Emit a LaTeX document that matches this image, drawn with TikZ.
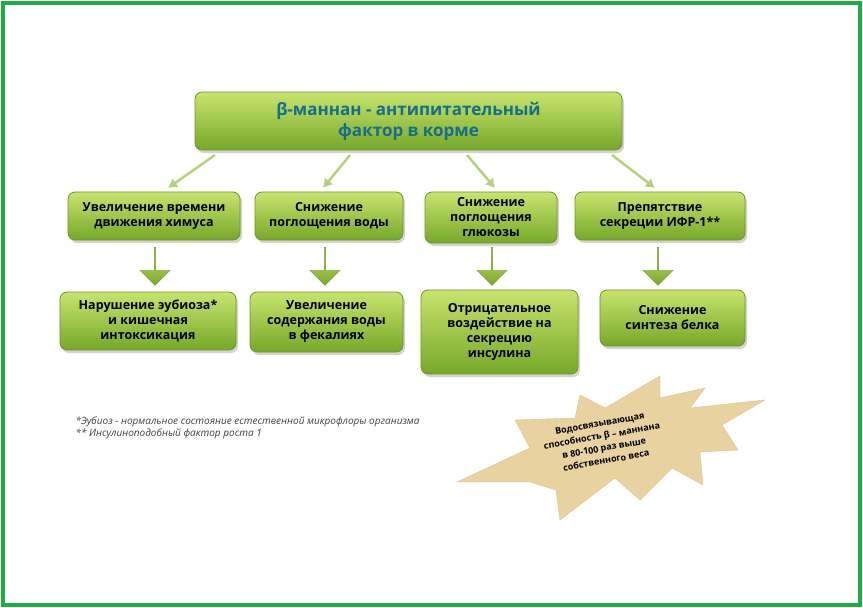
\documentclass[tikz,border=0pt]{standalone}
\usepackage{fontspec}
\setmainfont{Open Sans}
\usetikzlibrary{shapes.arrows,shadows,arrows.meta}
\definecolor{frameg}{RGB}{34,170,70}
\definecolor{gtop}{RGB}{200,228,110}
\definecolor{gbot}{RGB}{118,168,40}
\definecolor{gline}{RGB}{110,150,40}
\definecolor{arr}{RGB}{180,210,120}
\definecolor{teal}{RGB}{20,110,140}
\definecolor{papyrus}{RGB}{232,210,160}
\begin{document}
\begin{tikzpicture}[x=1pt,y=-1pt,
  box/.style={draw=gline,line width=0.8pt,rounded corners=7pt,top color=gtop,bottom color=gbot,
    drop shadow={shadow xshift=2pt,shadow yshift=-3pt,opacity=0.35},
    font=\bfseries\fontsize{12.5}{15}\selectfont,align=center,inner sep=2pt},
  thin/.style={arr,line width=2.5pt,-{Latex[length=9pt,width=11pt]}},
  down/.style={single arrow,shape border rotate=270,draw=gline,top color=gtop,bottom color=gbot,
    minimum height=38pt,minimum width=30pt,single arrow head extend=5pt,inner sep=0pt}]
\useasboundingbox (0,0) rectangle (863,608);
\fill[white] (0,0) rectangle (863,608);
\draw[frameg,line width=4pt] (3,3) rectangle (860,605);
\node[box,minimum width=427pt,minimum height=58pt,text=teal,font=\bfseries\fontsize{17}{21}\selectfont] (top) at (408.5,121) {β-маннан - антипитательный\\фактор в корме};
\node[box,minimum width=172pt,minimum height=48pt] (a1) at (154,216) {Увеличение времени\\движения химуса};
\node[box,minimum width=148pt,minimum height=48pt] (a2) at (329,216) {Снижение\\поглощения воды};
\node[box,minimum width=132pt,minimum height=51pt] (a3) at (491,217.5) {Снижение\\поглощения\\глюкозы};
\node[box,minimum width=170pt,minimum height=48pt] (a4) at (660,216) {Препятствие\\секреции ИФР-1**};
\node[box,minimum width=176pt,minimum height=58pt] (b1) at (148,321) {Нарушение эубиоза*\\и кишечная\\интоксикация};
\node[box,minimum width=153pt,minimum height=60pt] (b2) at (326.5,322) {Увеличение\\содержания воды\\в фекалиях};
\node[box,minimum width=157pt,minimum height=84pt] (b3) at (499.5,332) {Отрицательное\\воздействие на\\секрецию\\инсулина};
\node[box,minimum width=145pt,minimum height=56pt] (b4) at (672.5,318) {Снижение\\синтеза белка};
\foreach \x/\n in {155/1,325/2,492/3,658/4}
  \node[down] (d\n) at (\x,266) {};
\coordinate (t1) at (168,188); \coordinate (t2) at (323,188);
\coordinate (t3) at (495,188); \coordinate (t4) at (655,188);
\draw[thin] (215,155) -- (t1);
\draw[thin] (350,155) -- (t2);
\draw[thin] (467,155) -- (t3);
\draw[thin] (612,155) -- (t4);
\node[anchor=west,align=left,font=\itshape\fontsize{10}{12.5}\selectfont,text=black!75] (fn) at (72,428)
 {*Эубиоз - нормальное состояние естественной микрофлоры организма\\** Инсулиноподобный фактор роста 1};
\fill[papyrus,draw=papyrus!80!brown] (457,482) -- (530,448) -- (515,420) -- (575,418) -- (580,395)
 -- (605,408) -- (660,376) -- (660,398) -- (705,388) -- (690,408) -- (765,400) -- (722,425)
 -- (738,450) -- (700,452) -- (703,485) -- (672,468) -- (640,500) -- (615,478) -- (560,520)
 -- (556,490) -- (530,482) -- cycle;
\node[rotate=10,align=center,font=\bfseries\fontsize{9}{12.5}\selectfont] (st) at (603,442)
 {Водосвязывающая\\способность β – маннана\\в 80-100 раз выше\\собственного веса};
\end{tikzpicture}
\end{document}
